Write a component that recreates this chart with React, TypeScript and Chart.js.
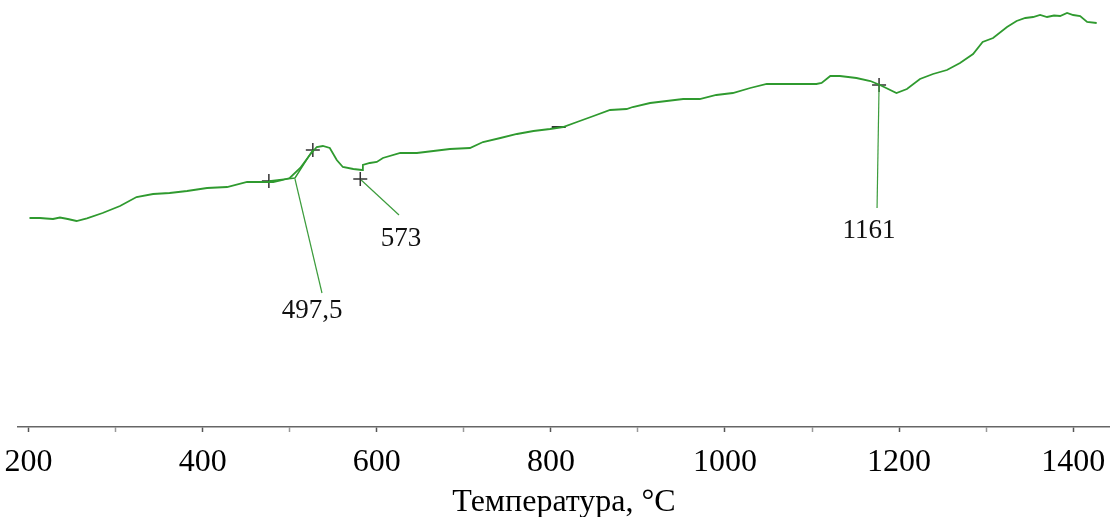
import React, { useEffect, useRef } from "react";
import { Chart, registerables } from "chart.js";

Chart.register(...registerables);

// Temperature (°C) along the curve
const temps = [201, 213, 220, 228, 236, 245, 255, 267, 285, 305, 324, 343, 362, 382, 405, 428, 451, 466, 481, 492, 500, 512, 523, 531, 538, 546, 554, 561, 573, 583, 584, 592, 600, 607, 627, 646, 665, 684, 707, 722, 742, 761, 780, 799, 814, 830, 849, 868, 887, 894, 914, 933, 952, 971, 990, 1009, 1029, 1048, 1067, 1086, 1105, 1111, 1121, 1132, 1151, 1167, 1178, 1197, 1209, 1224, 1239, 1255, 1270, 1285, 1296, 1308, 1324, 1335, 1345, 1354, 1362, 1370, 1378, 1385, 1393, 1400, 1408, 1416, 1427];
// Signal (arbitrary units)
const signal = [209, 209, 208.5, 208, 209.5, 208, 206, 208.7, 214, 221, 230, 233, 234, 236, 239, 240, 245, 245, 245, 247, 249, 259, 272, 280, 281, 279, 267, 260, 258, 257, 262, 264, 265, 269, 274, 274, 276, 278, 279, 285, 289, 293, 296, 298, 300, 305, 311, 317, 318, 320, 324, 326, 328, 328, 332, 334, 339, 343, 343, 343, 343, 344, 351, 351, 349, 346, 342, 334, 338, 348, 353, 357, 364, 373, 385, 389, 400, 406, 409, 410, 412, 410, 411.5, 411, 414, 412, 411, 405, 404];

// Marker crosses
const crossT = [476, 526.5, 581, 1177];
const crossV = [246, 277, 248, 342];
const dashT = [809];
const dashV = [300];

// Tangent construction near 497,5
const tangentT = [476, 506, 526.5];
const tangentV = [246, 249, 277];

// Leader lines (start/end)
const leaderT = [[506, 537], [582, 625.5], [1177, 1174.7]];
const leaderV = [[248, 134], [247, 212], [342, 219]];

// Annotation labels
const labelTexts = ["497,5", "573", "1161"];
const labelT = [525.6, 627.8, 1165.4];
const labelV = [116, 188, 196];

// Axis ticks
const tickValues = [200, 300, 400, 500, 600, 700, 800, 900, 1000, 1100, 1200, 1300, 1400];
const xTitle = "Температура, °C";

const SERIF = '"Liberation Serif", "Times New Roman", serif';
const GREEN = "#2f9a2f";

const annotationPlugin = {
  id: "annotLabels",
  afterDatasetsDraw(chart: any) {
    const { ctx, scales } = chart;
    const x = scales.x;
    const y = scales.y;
    ctx.save();
    ctx.font = `27px ${SERIF}`;
    ctx.fillStyle = "#111";
    ctx.textAlign = "center";
    ctx.textBaseline = "middle";
    labelTexts.forEach((t, i) => {
      ctx.fillText(t, x.getPixelForValue(labelT[i]), y.getPixelForValue(labelV[i]));
    });
    ctx.restore();
  },
};

export default function App() {
  const ref = useRef<HTMLCanvasElement | null>(null);

  useEffect(() => {
    if (!ref.current) return;
    const mk = (ts: number[], vs: number[]) => ts.map((t, i) => ({ x: t, y: vs[i] }));
    const leaderSets = leaderT.map((ts, i) => ({
      data: mk(ts, leaderV[i]),
      borderColor: "#3c9c3c",
      borderWidth: 1.2,
      pointRadius: 0,
      tension: 0,
    }));
    const chart = new Chart(ref.current, {
      type: "line",
      data: {
        datasets: [
          {
            data: mk(temps, signal),
            borderColor: GREEN,
            borderWidth: 1.8,
            pointRadius: 0,
            tension: 0,
          },
          {
            data: mk(tangentT, tangentV),
            borderColor: GREEN,
            borderWidth: 1.4,
            pointRadius: 0,
            tension: 0,
          },
          ...leaderSets,
          {
            data: mk(crossT, crossV),
            showLine: false,
            pointStyle: "cross",
            pointRadius: 7,
            pointBorderColor: "#333",
            pointBorderWidth: 1.5,
            pointBackgroundColor: "#333",
          },
          {
            data: mk(dashT, dashV),
            showLine: false,
            pointStyle: "line",
            pointRadius: 7,
            pointBorderColor: "#333",
            pointBorderWidth: 2,
          },
        ] as any,
      },
      options: {
        animation: false,
        responsive: false,
        layout: { autoPadding: false, padding: { left: 18, right: 0, top: 0, bottom: 0 } },
        plugins: { legend: { display: false }, tooltip: { enabled: false } },
        scales: {
          x: {
            type: "linear",
            min: 187.8,
            max: 1442.3,
            afterBuildTicks: (scale: any) => {
              scale.ticks = tickValues.map((v) => ({ value: v }));
            },
            afterFit: (scale: any) => {
              scale.paddingLeft = 0;
              scale.paddingRight = 0;
            },
            ticks: {
              autoSkip: false,
              maxRotation: 0,
              padding: 2,
              color: "#000",
              font: { family: SERIF, size: 32, lineHeight: 1.8125 },
              callback: (v: any) => (Number(v) % 200 === 0 ? String(v) : ""),
            },
            grid: {
              drawOnChartArea: false,
              drawTicks: true,
              tickLength: 5,
              tickWidth: 1.5,
              tickColor: (c: any) => (c.tick && c.tick.value % 200 === 0 ? "#555" : "#999"),
            },
            border: { display: true, color: "#666", width: 1.5 },
            title: {
              display: true,
              text: xTitle,
              color: "#000",
              font: { family: SERIF, size: 32, lineHeight: 0.5625 },
              padding: { top: 0, bottom: 5 },
            },
          },
          y: {
            type: "linear",
            display: false,
            min: 0,
            max: 427,
          },
        },
      },
      plugins: [annotationPlugin],
    } as any);
    return () => chart.destroy();
  }, []);

  return (
    <div style={{ position: "fixed", left: 0, top: 0, width: 1110, height: 517, background: "#fff" }}>
      <canvas ref={ref} width={1110} height={517} style={{ display: "block" }} />
    </div>
  );
}
